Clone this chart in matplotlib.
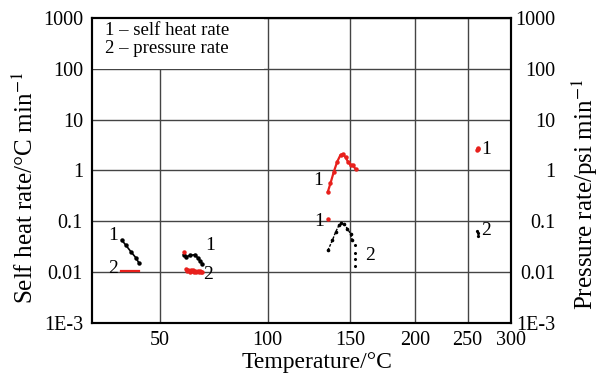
import matplotlib
matplotlib.use("Agg")
import matplotlib.pyplot as plt
import numpy as np
from matplotlib.ticker import FixedLocator, FixedFormatter, NullLocator

plt.rcParams['font.family'] = ['Liberation Serif', 'DejaVu Serif']
plt.rcParams['mathtext.fontset'] = 'stix'

# x axis is 1/T (K) with tick labels in °C
x_ticks = [50, 100, 150, 200, 250, 300]
y_ticks = [1e-3, 1e-2, 1e-1, 1, 10, 100, 1000]
y_labels = ["1E-3", "0.01", "0.1", "1", "10", "100", "1000"]

# group near 35-42 °C
blk_a_T = [35.5, 37.1, 39.0, 40.7, 42.0]
blk_a_v = [0.043, 0.0335, 0.0249, 0.0194, 0.015]
red_a_T = [35.2, 36.5, 38.0, 39.5, 41.0, 42.0]
red_a_v = [0.0105, 0.0105, 0.0105, 0.0105, 0.0105, 0.0105]

# group near 60-68 °C
blk_b_T = [59.9, 61.1, 62.8, 65.0, 66.0, 67.2, 68.0]
blk_b_v = [0.0222, 0.0203, 0.0213, 0.0222, 0.0191, 0.0166, 0.0148]
red_b_T = [60.2, 61.0, 61.5, 62.0, 62.5, 63.0, 63.5, 64.0, 64.5, 65.0, 65.5, 66.0, 66.5, 67.0, 67.5, 68.0]
red_b_v = [0.0247, 0.0115, 0.0105, 0.011, 0.0102, 0.0112, 0.0104, 0.0108, 0.0101, 0.0106,
           0.0102, 0.0105, 0.0101, 0.0104, 0.0101, 0.0103]

# group near 135-154 °C
red_c_T = [135.3, 137.0, 139.2, 141.4, 143.6, 145.2, 147.0, 148.6, 150.4, 152.0, 153.9]
red_c_v = [0.38, 0.56, 0.95, 1.49, 2.03, 2.09, 1.82, 1.49, 1.28, 1.28, 1.06]
red_dot_T = [135.3]
red_dot_v = [0.113]
blk_c_T = [135.3, 138.2, 140.3, 142.5, 144.1, 145.9, 148.2, 150.4, 151.6]
blk_c_v = [0.0267, 0.042, 0.061, 0.083, 0.092, 0.090, 0.072, 0.057, 0.042]
blk_tail_T = [153.4, 153.4, 153.4, 153.4]
blk_tail_v = [0.0335, 0.0243, 0.0185, 0.0135]

# group near 260 °C
red_d_T = [260.5, 260.7, 260.9]
red_d_v = [2.5, 2.65, 2.75]
blk_d_T = [260.5, 260.7, 260.9]
blk_d_v = [0.066, 0.058, 0.052]

curve_labels = [("1", 32.4, 0.053), ("2", 32.4, 0.0117),
                ("1", 71.7, 0.034), ("2", 70.8, 0.0089),
                ("1", 129.4, 0.65), ("1", 130.1, 0.101), ("2", 164, 0.021),
                ("1", 270, 2.55), ("2", 270, 0.066)]


def fwd(t):
    return -1.0 / (np.asarray(t, dtype=float) + 273.15)


def inv(u):
    return -1.0 / np.asarray(u, dtype=float) - 273.15


fig = plt.figure(figsize=(6.02, 3.75), dpi=100)
ax = fig.add_axes([92 / 602, 1 - 323 / 375, 419 / 602, 305 / 375])
ax.set_xscale('function', functions=(fwd, inv))
ax.set_yscale('log')
ax.set_xlim(25, 300)
ax.set_ylim(1e-3, 1000)

ax.xaxis.set_major_locator(FixedLocator(x_ticks))
ax.xaxis.set_major_formatter(FixedFormatter([str(t) for t in x_ticks]))
ax.xaxis.set_minor_locator(NullLocator())
ax.yaxis.set_major_locator(FixedLocator(y_ticks))
ax.yaxis.set_major_formatter(FixedFormatter(y_labels))
ax.yaxis.set_minor_locator(NullLocator())
ax.tick_params(axis='both', length=0, labelsize=14.5)
ax.tick_params(axis='x', pad=6)
ax.tick_params(axis='y', pad=6.5)
ax.grid(True, color='#444444', linewidth=1.0)
ax.set_axisbelow(True)
for s in ax.spines.values():
    s.set_linewidth(1.5)
    s.set_color('black')

# white box behind the legend text
ax.add_patch(plt.Rectangle((0, 5 / 6), 0.41, 1 / 6, transform=ax.transAxes,
                           facecolor='white', edgecolor='none', zorder=1.5))
ax.text(0.03, 0.988, "1 \u2013 self heat rate\n2 \u2013 pressure rate", transform=ax.transAxes,
        ha='left', va='top', fontsize=13.5, linespacing=1.1, zorder=3)

ms = 2.2
ax.plot(blk_a_T, blk_a_v, color='black', lw=1.2, marker='o', ms=ms, zorder=3)
ax.plot(red_a_T, red_a_v, color='#e8201c', lw=1.6, zorder=3)
ax.plot(blk_b_T, blk_b_v, color='black', lw=1.2, marker='o', ms=ms, zorder=3)
ax.plot(red_b_T, red_b_v, color='#e8201c', lw=0, marker='o', ms=ms, zorder=3)
ax.plot(red_c_T, red_c_v, color='#e8201c', lw=1.6, marker='o', ms=ms, zorder=3)
ax.plot(red_dot_T, red_dot_v, color='#e8201c', lw=0, marker='o', ms=ms, zorder=3)
ax.plot(blk_c_T, blk_c_v, color='black', lw=1.0, ls=(0, (2, 1)), marker='o', ms=1.6, zorder=3)
ax.plot(blk_tail_T, blk_tail_v, color='black', lw=0, marker='o', ms=1.2, zorder=3)
ax.plot(red_d_T, red_d_v, color='#e8201c', lw=1.5, marker='o', ms=ms, zorder=3)
ax.plot(blk_d_T, blk_d_v, color='black', lw=0, marker='o', ms=1.3, zorder=3)

for txt, t, v in curve_labels:
    ax.text(t, v, txt, ha='center', va='center', fontsize=14, zorder=4)

ax.set_xlabel("Temperature/\u00b0C", fontsize=17)
ax.xaxis.set_label_coords(0.537, -0.095)
ax.set_ylabel("Self heat rate/\u00b0C min$^{-1}$", fontsize=18)
ax.yaxis.set_label_coords(-0.158, 0.443)
ax.yaxis.label.set_verticalalignment('center')

ax2 = ax.twinx()
ax2.set_yscale('log')
ax2.set_ylim(1e-3, 1000)
ax2.yaxis.set_major_locator(FixedLocator(y_ticks))
ax2.yaxis.set_major_formatter(FixedFormatter(y_labels))
ax2.yaxis.set_minor_locator(NullLocator())
ax2.tick_params(axis='y', length=0, labelsize=14.5, pad=32)
for lab in ax2.get_yticklabels():
    lab.set_horizontalalignment('right')
for s in ax2.spines.values():
    s.set_linewidth(1.5)
ax2.set_ylabel("Pressure rate/psi min$^{-1}$", fontsize=18)
ax2.yaxis.set_label_coords(1.177, 0.42)
ax2.yaxis.label.set_verticalalignment('center')

fig.savefig("out.png", dpi=100)
